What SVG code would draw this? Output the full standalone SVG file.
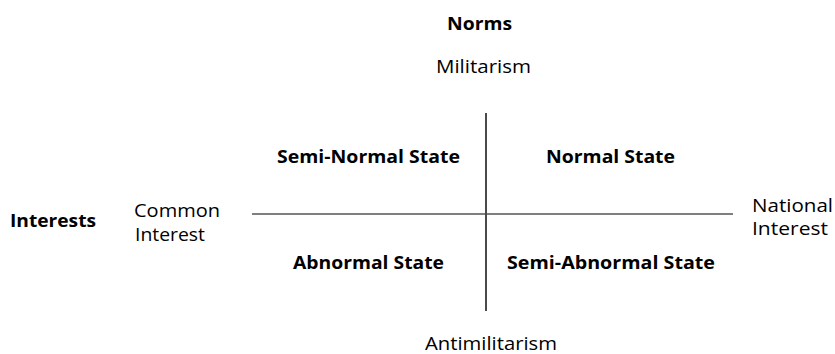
<svg xmlns="http://www.w3.org/2000/svg" width="835" height="354" viewBox="0 0 835 354">
<style>
text{font-family:"Open Sans","Noto Sans","Liberation Sans",sans-serif;fill:#000}
.r{font-size:18px}
.b{font-size:18.5px;font-weight:bold}
.axis{stroke:#000;stroke-width:1.2;fill:none}
.v{stroke:#4a4a4a;stroke-width:2}
</style>
<rect width="835" height="354" fill="#fff"/>
<g id="connectors">
<line class="axis" x1="252" y1="214" x2="733" y2="214"/>
<line class="axis v" x1="486" y1="113" x2="486" y2="311"/>
</g>
<g id="norms"><text class="b" x="447" y="30" textLength="65" lengthAdjust="spacingAndGlyphs">Norms</text></g>
<g id="militarism"><text class="r" x="436" y="73" textLength="95" lengthAdjust="spacingAndGlyphs">Militarism</text></g>
<g id="antimilitarism"><text class="r" x="425" y="350" textLength="132" lengthAdjust="spacingAndGlyphs">Antimilitarism</text></g>
<g id="interests"><text class="b" x="10" y="226.5" textLength="86" lengthAdjust="spacingAndGlyphs">Interests</text></g>
<g id="common-interest"><text class="r" x="134" y="216.5" textLength="86" lengthAdjust="spacingAndGlyphs">Common</text><text class="r" x="135" y="241" textLength="70" lengthAdjust="spacingAndGlyphs">Interest</text></g>
<g id="national-interest"><text class="r" x="752" y="211.5" textLength="81" lengthAdjust="spacingAndGlyphs">National</text><text class="r" x="752" y="234.5" textLength="76" lengthAdjust="spacingAndGlyphs">Interest</text></g>
<g id="semi-normal"><text class="b" x="277" y="162.5" textLength="183" lengthAdjust="spacingAndGlyphs">Semi-Normal State</text></g>
<g id="normal"><text class="b" x="546" y="162.5" textLength="129" lengthAdjust="spacingAndGlyphs">Normal State</text></g>
<g id="abnormal"><text class="b" x="293" y="268.5" textLength="151" lengthAdjust="spacingAndGlyphs">Abnormal State</text></g>
<g id="semi-abnormal"><text class="b" x="507" y="268.5" textLength="208" lengthAdjust="spacingAndGlyphs">Semi-Abnormal State</text></g>
</svg>
